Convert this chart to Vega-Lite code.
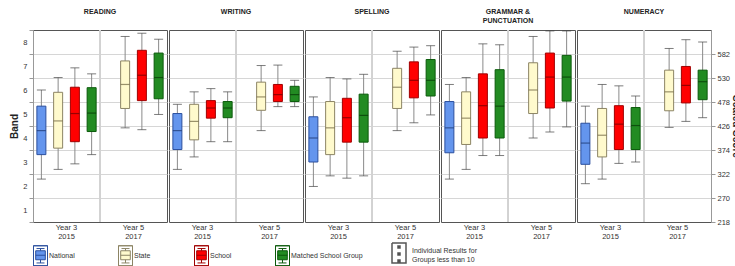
{
  "$schema": "https://vega.github.io/schema/vega-lite/v6.json",
  "padding": {"left": 9, "top": 7, "right": 0, "bottom": 0},
  "background": "white",
  "data": {"values": [
    {"panel": "READING", "year": "Year 3|2015", "group": "National", "min": 311, "q1": 364, "median": 416, "q3": 469, "max": 504},
    {"panel": "READING", "year": "Year 3|2015", "group": "State", "min": 332, "q1": 378, "median": 437, "q3": 499, "max": 531},
    {"panel": "READING", "year": "Year 3|2015", "group": "School", "min": 344, "q1": 392, "median": 453, "q3": 510, "max": 552},
    {"panel": "READING", "year": "Year 3|2015", "group": "Matched School Group", "min": 364, "q1": 414, "median": 454, "q3": 509, "max": 539},
    {"panel": "READING", "year": "Year 5|2017", "group": "State", "min": 422, "q1": 464, "median": 516, "q3": 567, "max": 620},
    {"panel": "READING", "year": "Year 5|2017", "group": "School", "min": 418, "q1": 481, "median": 536, "q3": 590, "max": 627},
    {"panel": "READING", "year": "Year 5|2017", "group": "Matched School Group", "min": 451, "q1": 485, "median": 531, "q3": 584, "max": 614},
    {"panel": "WRITING", "year": "Year 3|2015", "group": "National", "min": 332, "q1": 375, "median": 416, "q3": 453, "max": 473},
    {"panel": "WRITING", "year": "Year 3|2015", "group": "State", "min": 359, "q1": 396, "median": 436, "q3": 473, "max": 500},
    {"panel": "WRITING", "year": "Year 3|2015", "group": "School", "min": 392, "q1": 443, "median": 465, "q3": 481, "max": 507},
    {"panel": "WRITING", "year": "Year 3|2015", "group": "Matched School Group", "min": 392, "q1": 444, "median": 465, "q3": 479, "max": 500},
    {"panel": "WRITING", "year": "Year 5|2017", "group": "State", "min": 416, "q1": 460, "median": 489, "q3": 521, "max": 557},
    {"panel": "WRITING", "year": "Year 5|2017", "group": "School", "min": 468, "q1": 479, "median": 494, "q3": 516, "max": 558},
    {"panel": "WRITING", "year": "Year 5|2017", "group": "Matched School Group", "min": 468, "q1": 479, "median": 494, "q3": 512, "max": 525},
    {"panel": "SPELLING", "year": "Year 3|2015", "group": "National", "min": 295, "q1": 348, "median": 400, "q3": 446, "max": 489},
    {"panel": "SPELLING", "year": "Year 3|2015", "group": "State", "min": 318, "q1": 364, "median": 422, "q3": 479, "max": 531},
    {"panel": "SPELLING", "year": "Year 3|2015", "group": "School", "min": 313, "q1": 391, "median": 444, "q3": 486, "max": 528},
    {"panel": "SPELLING", "year": "Year 3|2015", "group": "Matched School Group", "min": 318, "q1": 391, "median": 449, "q3": 495, "max": 538},
    {"panel": "SPELLING", "year": "Year 5|2017", "group": "State", "min": 416, "q1": 464, "median": 510, "q3": 551, "max": 588},
    {"panel": "SPELLING", "year": "Year 5|2017", "group": "School", "min": 433, "q1": 487, "median": 525, "q3": 565, "max": 597},
    {"panel": "SPELLING", "year": "Year 5|2017", "group": "Matched School Group", "min": 450, "q1": 491, "median": 525, "q3": 570, "max": 600},
    {"panel": "GRAMMAR", "year": "Year 3|2015", "group": "National", "min": 311, "q1": 368, "median": 422, "q3": 479, "max": 516},
    {"panel": "GRAMMAR", "year": "Year 3|2015", "group": "State", "min": 332, "q1": 386, "median": 443, "q3": 500, "max": 531},
    {"panel": "GRAMMAR", "year": "Year 3|2015", "group": "School", "min": 362, "q1": 400, "median": 470, "q3": 539, "max": 604},
    {"panel": "GRAMMAR", "year": "Year 3|2015", "group": "Matched School Group", "min": 362, "q1": 400, "median": 469, "q3": 548, "max": 602},
    {"panel": "GRAMMAR", "year": "Year 5|2017", "group": "State", "min": 400, "q1": 453, "median": 504, "q3": 563, "max": 620},
    {"panel": "GRAMMAR", "year": "Year 5|2017", "group": "School", "min": 413, "q1": 465, "median": 532, "q3": 584, "max": 632},
    {"panel": "GRAMMAR", "year": "Year 5|2017", "group": "Matched School Group", "min": 424, "q1": 480, "median": 532, "q3": 579, "max": 632},
    {"panel": "NUMERACY", "year": "Year 3|2015", "group": "National", "min": 301, "q1": 343, "median": 389, "q3": 432, "max": 469},
    {"panel": "NUMERACY", "year": "Year 3|2015", "group": "State", "min": 311, "q1": 359, "median": 406, "q3": 464, "max": 516},
    {"panel": "NUMERACY", "year": "Year 3|2015", "group": "School", "min": 345, "q1": 375, "median": 430, "q3": 470, "max": 513},
    {"panel": "NUMERACY", "year": "Year 3|2015", "group": "Matched School Group", "min": 348, "q1": 375, "median": 427, "q3": 466, "max": 491},
    {"panel": "NUMERACY", "year": "Year 5|2017", "group": "State", "min": 423, "q1": 459, "median": 500, "q3": 547, "max": 594},
    {"panel": "NUMERACY", "year": "Year 5|2017", "group": "School", "min": 436, "q1": 476, "median": 514, "q3": 555, "max": 613},
    {"panel": "NUMERACY", "year": "Year 5|2017", "group": "Matched School Group", "min": 444, "q1": 483, "median": 522, "q3": 547, "max": 608}
  ]},
  "config": {
    "font": "Liberation Sans",
    "view": {"stroke": "#555", "strokeWidth": 1},
    "concat": {"spacing": 0},
    "title": {"font": "Liberation Sans", "fontSize": 7, "fontWeight": "bold", "color": "#222", "offset": 15, "lineHeight": 9, "anchor": "middle"},
    "axis": {"labelFont": "Liberation Sans", "labelFontSize": 7.5, "labelColor": "#333", "titleFont": "Liberation Sans", "titleFontSize": 10, "titleFontWeight": "bold", "titleColor": "#222", "gridColor": "#d6d6d6", "domainColor": "#999", "tickColor": "#999", "labelOverlap": false}
  },
  "hconcat": [
    {
      "width": 134, "height": 192,
      "title": {"text": "READING"},
      "transform": [{"filter": {"field": "panel", "equal": "READING"}}],
      "layer": [
        {"mark": {"type": "rule", "color": "#d2d2d2", "strokeWidth": 1},
         "encoding": {"x": {"datum": "Year 5|2017", "type": "nominal", "bandPosition": 0, "scale": {"domain": ["Year 3|2015", "Year 5|2017"], "paddingInner": 0, "paddingOuter": 0}, "axis": {"title": null, "labelExpr": "split(datum.label, '|')", "labelAngle": 0, "ticks": false, "domain": false, "grid": false, "labelPadding": 1, "labelLineHeight": 9}}}},
        {"mark": {"type": "rule", "color": "#8a8a8a"},
         "encoding": {"x": {"field": "year", "type": "nominal", "title": null}, "xOffset": {"field": "group", "type": "nominal", "scale": {"domain": ["National", "State", "School", "Matched School Group"], "paddingInner": 0, "paddingOuter": 0}},
          "y": {"field": "min", "type": "quantitative", "scale": {"domain": [218, 634], "nice": false, "zero": false},
            "axis": {"orient": "left", "title": "Band", "values": [218, 270, 322, 374, 426, 478, 530, 582, 634], "tickCount": 40, "labelExpr": "datum.value <= 218 ? '' : format((datum.value - 218) / 52, 'd')", "labelOffset": 12, "labelFlush": false, "labelOverlap": false, "tickSize": 4, "labelPadding": 2, "titlePadding": 3, "grid": true, "gridOpacity": {"condition": {"test": "datum.value <= 218 || datum.value >= 634", "value": 0}, "value": 1}}},
          "y2": {"field": "max"}}},
        {"mark": {"type": "tick", "color": "#444", "size": 9, "thickness": 1},
         "encoding": {"x": {"field": "year", "type": "nominal", "title": null}, "xOffset": {"field": "group", "type": "nominal"}, "y": {"field": "min", "type": "quantitative"}}},
        {"mark": {"type": "tick", "color": "#444", "size": 9, "thickness": 1},
         "encoding": {"x": {"field": "year", "type": "nominal", "title": null}, "xOffset": {"field": "group", "type": "nominal"}, "y": {"field": "max", "type": "quantitative"}}},
        {"mark": {"type": "bar", "width": 9, "strokeWidth": 1},
         "encoding": {"x": {"field": "year", "type": "nominal", "title": null}, "xOffset": {"field": "group", "type": "nominal"}, "y": {"field": "q1", "type": "quantitative"}, "y2": {"field": "q3"},
          "fill": {"field": "group", "type": "nominal", "scale": {"domain": ["National", "State", "School", "Matched School Group"], "range": ["#6495ED", "#FFFACD", "#FF0000", "#228B22"]},
            "legend": {"orient": "none", "legendX": -3, "legendY": 215, "direction": "horizontal", "columns": 4, "gridAlign": "each", "title": null, "symbolType": "M-0.7,-1L0.7,-1L0.7,1L-0.7,1L-0.7,-1L-0.7,1L0.7,1L0.7,-1L-0.7,-1M0,-0.72L0,-0.5M0,0.4L0,0.72M-0.4,-0.72L0.4,-0.72M-0.4,0.72L0.4,0.72M-0.48,-0.5L0.48,-0.5L0.48,0.4L-0.48,0.4ZM-0.48,-0.05L0.48,-0.05", "symbolSize": 400, "symbolStrokeColor": "#555", "symbolStrokeWidth": 1, "symbolOpacity": 1, "columnPadding": 40, "labelOffset": -2, "labelFontSize": 7, "labelColor": "#333", "labelFont": "Liberation Sans", "labelLimit": 200}},
          "stroke": {"field": "group", "type": "nominal", "scale": {"domain": ["National", "State", "School", "Matched School Group"], "range": ["#2b4f9e", "#8c8464", "#a00000", "#0b5a0b"]}, "legend": null}}},
        {"mark": {"type": "tick", "size": 9, "thickness": 1.2},
         "encoding": {"x": {"field": "year", "type": "nominal", "title": null}, "xOffset": {"field": "group", "type": "nominal"}, "y": {"field": "median", "type": "quantitative"},
          "color": {"field": "group", "type": "nominal", "scale": {"domain": ["National", "State", "School", "Matched School Group"], "range": ["#1d3770", "#6e6440", "#6a0000", "#063806"]}, "legend": null}}},
        {"transform": [{"filter": "false"}],
         "mark": {"type": "point", "fill": "#111", "stroke": "#555", "strokeWidth": 1, "opacity": 1},
         "encoding": {"shape": {"datum": "Individual Results for Groups less than 10", "type": "nominal",
           "scale": {"range": ["M-0.7,-1L0.7,-1L0.7,1L-0.7,1L-0.7,-1L-0.7,1L0.7,1L0.7,-1L-0.7,-1M-0.1,-0.7L0.1,-0.7L0.1,-0.5L-0.1,-0.5ZM-0.1,0L0.1,0L0.1,0.2L-0.1,0.2ZM-0.1,0.7L0.1,0.7L0.1,0.9L-0.1,0.9Z"]},
           "legend": {"orient": "none", "legendX": 355, "legendY": 212, "title": null, "symbolSize": 400, "symbolOpacity": 1, "labelExpr": "['Individual Results for', 'Groups less than 10']", "labelBaseline": "alphabetic", "labelOffset": 2, "labelFontSize": 7, "labelColor": "#333", "labelFont": "Liberation Sans", "labelLimit": 200}}}}
      ]
    },
    {
      "width": 134, "height": 192,
      "title": {"text": "WRITING"},
      "transform": [{"filter": {"field": "panel", "equal": "WRITING"}}],
      "layer": [
        {"mark": {"type": "rule", "color": "#d2d2d2", "strokeWidth": 1},
         "encoding": {"x": {"datum": "Year 5|2017", "type": "nominal", "bandPosition": 0, "scale": {"domain": ["Year 3|2015", "Year 5|2017"], "paddingInner": 0, "paddingOuter": 0}, "axis": {"title": null, "labelExpr": "split(datum.label, '|')", "labelAngle": 0, "ticks": false, "domain": false, "grid": false, "labelPadding": 1, "labelLineHeight": 9}}}},
        {"mark": {"type": "rule", "color": "#8a8a8a"},
         "encoding": {"x": {"field": "year", "type": "nominal", "title": null}, "xOffset": {"field": "group", "type": "nominal", "scale": {"domain": ["National", "State", "School", "Matched School Group"], "paddingInner": 0, "paddingOuter": 0}},
          "y": {"field": "min", "type": "quantitative", "scale": {"domain": [218, 634], "nice": false, "zero": false},
            "axis": {"title": null, "labels": false, "ticks": false, "domain": false, "grid": true, "tickCount": 40, "values": [270, 322, 374, 426, 478, 530, 582]}},
          "y2": {"field": "max"}}},
        {"mark": {"type": "tick", "color": "#444", "size": 9, "thickness": 1},
         "encoding": {"x": {"field": "year", "type": "nominal", "title": null}, "xOffset": {"field": "group", "type": "nominal"}, "y": {"field": "min", "type": "quantitative", "title": null}}},
        {"mark": {"type": "tick", "color": "#444", "size": 9, "thickness": 1},
         "encoding": {"x": {"field": "year", "type": "nominal", "title": null}, "xOffset": {"field": "group", "type": "nominal"}, "y": {"field": "max", "type": "quantitative", "title": null}}},
        {"mark": {"type": "bar", "width": 9, "strokeWidth": 1},
         "encoding": {"x": {"field": "year", "type": "nominal", "title": null}, "xOffset": {"field": "group", "type": "nominal"}, "y": {"field": "q1", "type": "quantitative", "title": null}, "y2": {"field": "q3"},
          "fill": {"field": "group", "type": "nominal"},
          "stroke": {"field": "group", "type": "nominal", "legend": null}}},
        {"mark": {"type": "tick", "size": 9, "thickness": 1.2},
         "encoding": {"x": {"field": "year", "type": "nominal", "title": null}, "xOffset": {"field": "group", "type": "nominal"}, "y": {"field": "median", "type": "quantitative", "title": null},
          "color": {"field": "group", "type": "nominal", "legend": null}}}
      ]
    },
    {
      "width": 134, "height": 192,
      "title": {"text": "SPELLING"},
      "transform": [{"filter": {"field": "panel", "equal": "SPELLING"}}],
      "layer": [
        {"mark": {"type": "rule", "color": "#d2d2d2", "strokeWidth": 1},
         "encoding": {"x": {"datum": "Year 5|2017", "type": "nominal", "bandPosition": 0, "scale": {"domain": ["Year 3|2015", "Year 5|2017"], "paddingInner": 0, "paddingOuter": 0}, "axis": {"title": null, "labelExpr": "split(datum.label, '|')", "labelAngle": 0, "ticks": false, "domain": false, "grid": false, "labelPadding": 1, "labelLineHeight": 9}}}},
        {"mark": {"type": "rule", "color": "#8a8a8a"},
         "encoding": {"x": {"field": "year", "type": "nominal", "title": null}, "xOffset": {"field": "group", "type": "nominal", "scale": {"domain": ["National", "State", "School", "Matched School Group"], "paddingInner": 0, "paddingOuter": 0}},
          "y": {"field": "min", "type": "quantitative", "scale": {"domain": [218, 634], "nice": false, "zero": false},
            "axis": {"title": null, "labels": false, "ticks": false, "domain": false, "grid": true, "tickCount": 40, "values": [270, 322, 374, 426, 478, 530, 582]}},
          "y2": {"field": "max"}}},
        {"mark": {"type": "tick", "color": "#444", "size": 9, "thickness": 1},
         "encoding": {"x": {"field": "year", "type": "nominal", "title": null}, "xOffset": {"field": "group", "type": "nominal"}, "y": {"field": "min", "type": "quantitative", "title": null}}},
        {"mark": {"type": "tick", "color": "#444", "size": 9, "thickness": 1},
         "encoding": {"x": {"field": "year", "type": "nominal", "title": null}, "xOffset": {"field": "group", "type": "nominal"}, "y": {"field": "max", "type": "quantitative", "title": null}}},
        {"mark": {"type": "bar", "width": 9, "strokeWidth": 1},
         "encoding": {"x": {"field": "year", "type": "nominal", "title": null}, "xOffset": {"field": "group", "type": "nominal"}, "y": {"field": "q1", "type": "quantitative", "title": null}, "y2": {"field": "q3"},
          "fill": {"field": "group", "type": "nominal"},
          "stroke": {"field": "group", "type": "nominal", "legend": null}}},
        {"mark": {"type": "tick", "size": 9, "thickness": 1.2},
         "encoding": {"x": {"field": "year", "type": "nominal", "title": null}, "xOffset": {"field": "group", "type": "nominal"}, "y": {"field": "median", "type": "quantitative", "title": null},
          "color": {"field": "group", "type": "nominal", "legend": null}}}
      ]
    },
    {
      "width": 134, "height": 192,
      "title": {"text": ["GRAMMAR &", "PUNCTUATION"], "offset": 6},
      "transform": [{"filter": {"field": "panel", "equal": "GRAMMAR"}}],
      "layer": [
        {"mark": {"type": "rule", "color": "#d2d2d2", "strokeWidth": 1},
         "encoding": {"x": {"datum": "Year 5|2017", "type": "nominal", "bandPosition": 0, "scale": {"domain": ["Year 3|2015", "Year 5|2017"], "paddingInner": 0, "paddingOuter": 0}, "axis": {"title": null, "labelExpr": "split(datum.label, '|')", "labelAngle": 0, "ticks": false, "domain": false, "grid": false, "labelPadding": 1, "labelLineHeight": 9}}}},
        {"mark": {"type": "rule", "color": "#8a8a8a"},
         "encoding": {"x": {"field": "year", "type": "nominal", "title": null}, "xOffset": {"field": "group", "type": "nominal", "scale": {"domain": ["National", "State", "School", "Matched School Group"], "paddingInner": 0, "paddingOuter": 0}},
          "y": {"field": "min", "type": "quantitative", "scale": {"domain": [218, 634], "nice": false, "zero": false},
            "axis": {"title": null, "labels": false, "ticks": false, "domain": false, "grid": true, "tickCount": 40, "values": [270, 322, 374, 426, 478, 530, 582]}},
          "y2": {"field": "max"}}},
        {"mark": {"type": "tick", "color": "#444", "size": 9, "thickness": 1},
         "encoding": {"x": {"field": "year", "type": "nominal", "title": null}, "xOffset": {"field": "group", "type": "nominal"}, "y": {"field": "min", "type": "quantitative", "title": null}}},
        {"mark": {"type": "tick", "color": "#444", "size": 9, "thickness": 1},
         "encoding": {"x": {"field": "year", "type": "nominal", "title": null}, "xOffset": {"field": "group", "type": "nominal"}, "y": {"field": "max", "type": "quantitative", "title": null}}},
        {"mark": {"type": "bar", "width": 9, "strokeWidth": 1},
         "encoding": {"x": {"field": "year", "type": "nominal", "title": null}, "xOffset": {"field": "group", "type": "nominal"}, "y": {"field": "q1", "type": "quantitative", "title": null}, "y2": {"field": "q3"},
          "fill": {"field": "group", "type": "nominal"},
          "stroke": {"field": "group", "type": "nominal", "legend": null}}},
        {"mark": {"type": "tick", "size": 9, "thickness": 1.2},
         "encoding": {"x": {"field": "year", "type": "nominal", "title": null}, "xOffset": {"field": "group", "type": "nominal"}, "y": {"field": "median", "type": "quantitative", "title": null},
          "color": {"field": "group", "type": "nominal", "legend": null}}}
      ]
    },
    {
      "width": 134, "height": 192,
      "title": {"text": "NUMERACY"},
      "transform": [{"filter": {"field": "panel", "equal": "NUMERACY"}}],
      "layer": [
        {"mark": {"type": "rule", "color": "#d2d2d2", "strokeWidth": 1},
         "encoding": {"x": {"datum": "Year 5|2017", "type": "nominal", "bandPosition": 0, "scale": {"domain": ["Year 3|2015", "Year 5|2017"], "paddingInner": 0, "paddingOuter": 0}, "axis": {"title": null, "labelExpr": "split(datum.label, '|')", "labelAngle": 0, "ticks": false, "domain": false, "grid": false, "labelPadding": 1, "labelLineHeight": 9}}}},
        {"mark": {"type": "rule", "color": "#8a8a8a"},
         "encoding": {"x": {"field": "year", "type": "nominal", "title": null}, "xOffset": {"field": "group", "type": "nominal", "scale": {"domain": ["National", "State", "School", "Matched School Group"], "paddingInner": 0, "paddingOuter": 0}},
          "y": {"field": "min", "type": "quantitative", "scale": {"domain": [218, 634], "nice": false, "zero": false},
            "axis": {"orient": "right", "title": "Scaled Score", "values": [218, 270, 322, 374, 426, 478, 530, 582], "tickCount": 40, "labelFlush": false, "labelOverlap": false, "tickSize": 4, "labelPadding": 2, "titlePadding": 1, "grid": true, "gridOpacity": {"condition": {"test": "datum.value <= 218 || datum.value >= 634", "value": 0}, "value": 1}}},
          "y2": {"field": "max"}}},
        {"mark": {"type": "tick", "color": "#444", "size": 9, "thickness": 1},
         "encoding": {"x": {"field": "year", "type": "nominal", "title": null}, "xOffset": {"field": "group", "type": "nominal"}, "y": {"field": "min", "type": "quantitative"}}},
        {"mark": {"type": "tick", "color": "#444", "size": 9, "thickness": 1},
         "encoding": {"x": {"field": "year", "type": "nominal", "title": null}, "xOffset": {"field": "group", "type": "nominal"}, "y": {"field": "max", "type": "quantitative"}}},
        {"mark": {"type": "bar", "width": 9, "strokeWidth": 1},
         "encoding": {"x": {"field": "year", "type": "nominal", "title": null}, "xOffset": {"field": "group", "type": "nominal"}, "y": {"field": "q1", "type": "quantitative"}, "y2": {"field": "q3"},
          "fill": {"field": "group", "type": "nominal"},
          "stroke": {"field": "group", "type": "nominal", "legend": null}}},
        {"mark": {"type": "tick", "size": 9, "thickness": 1.2},
         "encoding": {"x": {"field": "year", "type": "nominal", "title": null}, "xOffset": {"field": "group", "type": "nominal"}, "y": {"field": "median", "type": "quantitative"},
          "color": {"field": "group", "type": "nominal", "legend": null}}}
      ]
    }
  ]
}
